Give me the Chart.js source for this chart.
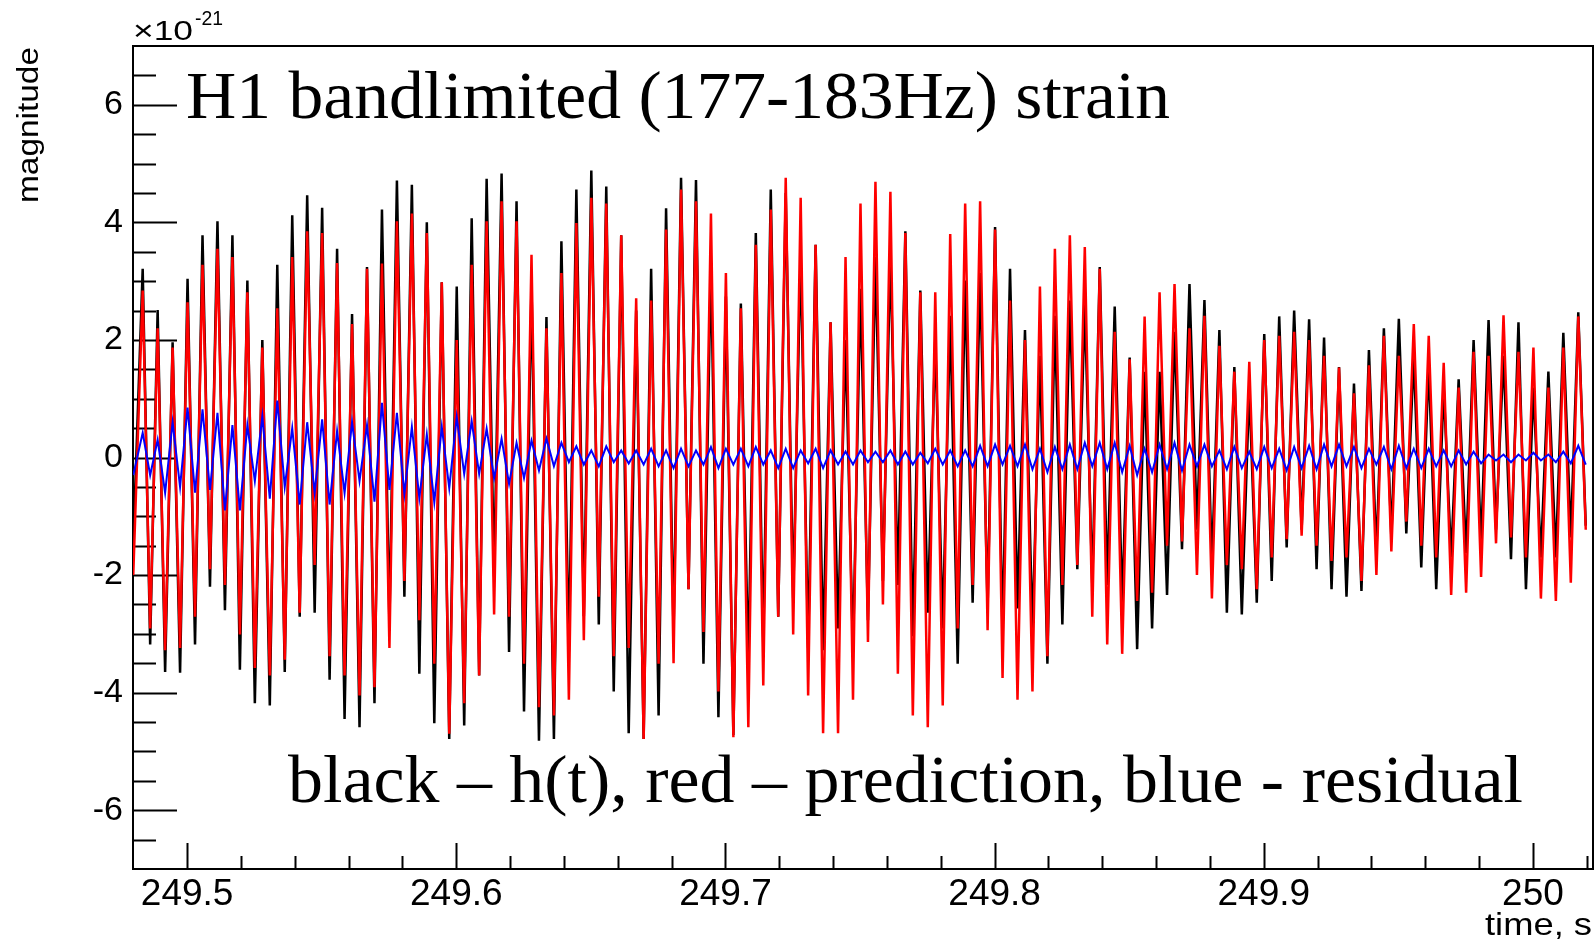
<!DOCTYPE html>
<html>
<head>
<meta charset="utf-8">
<title>H1 bandlimited strain</title>
<script src="https://cdn.jsdelivr.net/npm/chart.js@4.4.1/dist/chart.umd.min.js"></script>
<style>
  html, body { margin: 0; padding: 0; background: #fff; }
  #wrap { width: 1595px; height: 942px; }
</style>
</head>
<body>
<div id="wrap"><canvas id="myChart" width="1595" height="942"></canvas></div>
<script>

// values in units of 1e-21, one peak and one trough per ~180 Hz cycle
const firstPeak = 249.4835;   // time of first peak, s
const period = 1 / 180;       // cycle length, s
const startTime = 249.48;

const hStart = -1.5;
const predStart = -2.0;
const resStart = -0.3;

// black - h(t)
const hPeaks = [
  3.21, 2.51, 1.96, 3.04, 3.78, 4.02, 3.78, 3.01, 2.00, 3.28, 4.12, 4.46, 4.25, 3.55, 2.44, 3.24,
  4.22, 4.71, 4.64, 4.00, 2.98, 2.91, 4.07, 4.74, 4.83, 4.36, 2.95, 2.39, 3.68, 4.56, 4.88, 4.61, 3.78,
  2.50, 3.21, 4.24, 4.76, 4.72, 3.35, 2.74, 2.62, 3.82, 4.56, 4.50, 3.48, 3.62, 2.30, 2.00, 2.87,
  3.41, 3.48, 3.85, 2.84, 2.00, 2.41, 3.01, 3.14, 3.92, 3.21, 2.17, 1.73, 2.41, 2.67, 2.61, 3.24,
  2.57, 1.70, 1.46, 1.46, 2.14, 2.95, 2.68, 2.17, 1.54, 1.19, 2.10, 2.40, 2.50, 2.35, 2.04, 1.54, 1.26,
  1.83, 2.20, 2.36, 1.73, 1.60, 1.19, 1.33, 2.00, 2.34, 1.73, 2.30, 1.19, 1.46, 2.12, 2.47
];
const hTroughs = [
  -3.18, -3.65, -3.66, -3.18, -2.20, -2.60, -3.61, -4.18, -4.22, -3.65, -2.71, -2.64, -3.78, -4.45, -4.59, -4.18,
  -2.84, -2.37, -3.68, -4.52, -4.79, -4.56, -3.71, -2.03, -3.31, -4.32, -4.82, -4.79, -3.30, -2.70, -2.84, -3.98, -4.69,
  -4.79, -4.39, -3.00, -2.24, -3.51, -4.42, -4.72, -3.58, -3.18, -2.71, -2.40, -3.24, -3.28, -2.91, -3.31, -2.77,
  -2.10, -2.17, -3.04, -2.64, -2.91, -3.51, -2.47, -2.57, -3.04, -2.57, -2.97, -3.51, -2.84, -1.90, -2.17, -2.17,
  -2.50, -3.26, -2.91, -2.34, -1.56, -1.23, -1.83, -2.64, -2.67, -2.47, -2.10, -1.53, -1.23, -1.90, -2.24, -2.37, -2.27,
  -1.63, -1.36, -1.29, -1.87, -2.24, -1.70, -1.63, -1.50, -1.23, -1.73, -2.24, -1.70, -1.70, -1.36, -1.16
];

// red - prediction
const predPeaks = [
  2.84, 2.20, 1.87, 2.64, 3.28, 3.55, 3.41, 2.81, 1.87, 2.54, 3.41, 3.85, 3.82, 3.31, 2.27, 3.21,
  3.30, 4.02, 4.15, 3.82, 2.98, 2.00, 3.28, 4.02, 4.36, 4.02, 3.45, 2.20, 3.14, 3.99, 4.42, 4.32, 3.78,
  2.71, 2.67, 3.88, 4.56, 4.36, 4.15, 3.14, 2.54, 3.62, 4.22, 4.76, 4.42, 3.62, 2.30, 3.41, 4.32,
  4.69, 4.52, 3.82, 2.81, 2.81, 3.80, 4.32, 4.36, 3.88, 2.67, 2.00, 2.91, 3.55, 3.78, 3.58, 3.21,
  2.14, 1.67, 2.40, 2.81, 2.95, 2.20, 2.41, 1.90, 1.46, 1.63, 2.00, 2.07, 2.14, 2.00, 1.73, 1.53, 1.09,
  1.57, 2.07, 1.73, 2.27, 2.07, 1.61, 1.19, 1.80, 1.73, 2.42, 1.80, 1.87, 1.19, 1.87, 2.40
];
const predTroughs = [
  -2.91, -3.28, -3.24, -2.71, -1.90, -2.17, -3.01, -3.58, -3.71, -3.44, -2.64, -1.83, -3.38, -3.71, -4.05, -3.91,
  -3.24, -2.10, -2.77, -3.51, -4.70, -4.18, -3.71, -2.67, -2.71, -3.51, -4.25, -4.39, -4.12, -3.11, -2.37, -3.38, -3.24,
  -4.79, -3.51, -3.50, -2.24, -2.97, -3.98, -4.76, -4.59, -3.88, -2.71, -3.01, -4.05, -4.69, -4.69, -4.12, -3.14,
  -2.50, -3.68, -4.39, -4.59, -4.22, -2.91, -2.17, -2.94, -3.75, -4.12, -3.98, -3.38, -2.17, -1.83, -2.71, -3.18,
  -3.34, -2.44, -2.30, -1.50, -1.43, -2.00, -2.40, -1.83, -1.90, -2.24, -1.70, -1.39, -1.33, -1.50, -1.76, -1.70, -2.10,
  -2.00, -1.60, -1.09, -1.50, -1.70, -2.34, -2.30, -2.03, -1.46, -1.36, -1.70, -2.40, -2.44, -2.13, -1.23
];

// blue - residual
const resPeaks = [
  0.42, 0.30, 0.60, 0.85, 0.82, 0.76, 0.55, 0.55, 0.70, 0.97, 0.50, 0.60, 0.65, 0.45, 0.60, 0.55,
  0.93, 0.76, 0.52, 0.39, 0.52, 0.69, 0.62, 0.49, 0.32, 0.25, 0.29, 0.32, 0.25, 0.19, 0.12, 0.19, 0.12,
  0.12, 0.15, 0.12, 0.15, 0.12, 0.18, 0.15, 0.15, 0.18, 0.12, 0.15, 0.12, 0.15, 0.12, 0.10, 0.12,
  0.10, 0.12, 0.10, 0.08, 0.15, 0.12, 0.12, 0.20, 0.22, 0.20, 0.22, 0.15, 0.18, 0.22, 0.25, 0.25,
  0.25, 0.20, 0.15, 0.22, 0.25, 0.22, 0.22, 0.12, 0.18, 0.10, 0.18, 0.15, 0.18, 0.20, 0.22, 0.22, 0.18,
  0.15, 0.18, 0.20, 0.15, 0.15, 0.12, 0.12, 0.10, 0.05, 0.05, 0.05, 0.08, 0.05, 0.10, 0.20
];
const resTroughs = [
  -0.30, -0.60, -0.50, -0.60, -0.55, -0.90, -0.90, -0.40, -0.70, -0.50, -0.80, -0.60, -0.80, -0.60, -0.40, -0.75,
  -0.55, -0.62, -0.69, -0.76, -0.52, -0.28, -0.28, -0.35, -0.45, -0.35, -0.22, -0.15, -0.08, -0.12, -0.15, -0.08, -0.10,
  -0.12, -0.15, -0.18, -0.15, -0.12, -0.18, -0.12, -0.15, -0.12, -0.18, -0.18, -0.10, -0.18, -0.12, -0.12, -0.08,
  -0.08, -0.12, -0.12, -0.10, -0.12, -0.15, -0.15, -0.15, -0.12, -0.15, -0.20, -0.25, -0.20, -0.20, -0.15, -0.20,
  -0.25, -0.30, -0.25, -0.20, -0.22, -0.15, -0.15, -0.20, -0.18, -0.20, -0.18, -0.22, -0.18, -0.20, -0.15, -0.15, -0.18,
  -0.12, -0.20, -0.18, -0.18, -0.15, -0.15, -0.12, -0.10, -0.05, -0.08, -0.05, -0.05, -0.08, -0.10, -0.12
];

const xMin = 249.4799, xMax = 250.0223;
const yMin = -7, yMax = 7;
const titleText = 'H1 bandlimited (177-183Hz) strain';
const noteText = 'black \u2013 h(t), red \u2013 prediction, blue - residual';


function buildSeries(start, peaks, troughs) {
  var pts = [{ x: startTime, y: start }];
  for (var i = 0; i < peaks.length; i++) {
    var t = firstPeak + i * period;
    pts.push({ x: t, y: peaks[i] });
    pts.push({ x: t + period / 2, y: troughs[i] });
  }
  return pts;
}

function isMult(v, step) {
  var q = v / step;
  return Math.abs(q - Math.round(q)) < 1e-6;
}

// squeeze / stretch a string to the width it has in the picture
function fitText(ctx, txt, font, x, y, w) {
  ctx.font = font;
  var m = ctx.measureText(txt).width;
  ctx.save();
  ctx.translate(x, y);
  ctx.scale(w / m, 1);
  ctx.fillText(txt, 0, 0);
  ctx.restore();
}

// ROOT style frame with inward ticks
const framePlugin = {
  id: 'frame',
  beforeDatasetsDraw(chart) {
    const ctx = chart.ctx;
    const a = chart.chartArea;
    const xs = chart.scales.x, ys = chart.scales.y;
    ctx.save();
    ctx.strokeStyle = '#000';
    ctx.lineWidth = 2;
    ctx.strokeRect(a.left, a.top, a.right - a.left, a.bottom - a.top);

    ctx.beginPath();
    ys.ticks.forEach(function (t) {
      var py = Math.round(ys.getPixelForValue(t.value)) + 0.5;
      if (py <= a.top + 1 || py >= a.bottom - 1) return;
      var len = isMult(t.value, 2) ? 44 : 23;
      ctx.moveTo(a.left, py);
      ctx.lineTo(a.left + len, py);
    });
    xs.ticks.forEach(function (t) {
      var px = Math.round(xs.getPixelForValue(t.value)) + 0.5;
      if (px <= a.left + 1 || px >= a.right - 1) return;
      var len = isMult(t.value, 0.1) ? 26 : 13;
      ctx.moveTo(px, a.bottom);
      ctx.lineTo(px, a.bottom - len);
    });
    ctx.stroke();
    ctx.restore();
  },
  afterDraw(chart) {
    const ctx = chart.ctx;
    ctx.save();
    ctx.fillStyle = '#000';
    ctx.textAlign = 'left';
    ctx.textBaseline = 'alphabetic';

    fitText(ctx, titleText, '68px "Liberation Serif"', 186, 118, 984);
    fitText(ctx, noteText, '68px "Liberation Serif"', 288, 802, 1235);

    fitText(ctx, '\u00d710', '28px "Liberation Sans"', 133, 40, 60);
    fitText(ctx, '-21', '20px "Liberation Sans"', 195, 25, 28);

    fitText(ctx, 'time, s', '32px "Liberation Sans"', 1485, 935, 107);

    ctx.save();
    ctx.translate(38, 203);
    ctx.rotate(-Math.PI / 2);
    fitText(ctx, 'magnitude', '29px "Liberation Sans"', 0, 0, 156);
    ctx.restore();

    ctx.restore();
  }
};

Chart.defaults.font.family = '"Liberation Sans", Arial, sans-serif';
Chart.defaults.color = '#000';

const canvas = document.getElementById('myChart');
const ctx = canvas.getContext('2d');

const chart = new Chart(ctx, {
  type: 'line',
  data: {
    datasets: [{
      label: 'residual',
      data: buildSeries(resStart, resPeaks, resTroughs),
      borderColor: '#0000ff',
      borderWidth: 2,
      order: 0
    }, {
      label: 'prediction',
      data: buildSeries(predStart, predPeaks, predTroughs),
      borderColor: '#ff0000',
      borderWidth: 2.5,
      order: 1
    }, {
      label: 'h(t)',
      data: buildSeries(hStart, hPeaks, hTroughs),
      borderColor: '#000000',
      borderWidth: 2.5,
      order: 2
    }]
  },
  options: {
    responsive: false,
    animation: false,
    events: [],
    elements: {
      point: { radius: 0 },
      line: { tension: 0, fill: false }
    },
    layout: { padding: { top: 46, right: 2, left: 0, bottom: 0 } },
    plugins: {
      legend: { display: false },
      tooltip: { enabled: false }
    },
    scales: {
      x: {
        type: 'linear',
        position: 'bottom',
        min: xMin,
        max: xMax,
        border: { display: false },
        grid: { display: false, drawTicks: false },
        afterFit: function (scale) { scale.height = 73; },
        ticks: {
          stepSize: 0.02,
          includeBounds: false,
          autoSkip: false,
          maxRotation: 0,
          minRotation: 0,
          padding: 4,
          font: { size: 37 },
          callback: function (v) {
            return isMult(v, 0.1) ? String(+v.toFixed(1)) : '';
          }
        }
      },
      y: {
        type: 'linear',
        position: 'left',
        min: yMin,
        max: yMax,
        border: { display: false },
        grid: { display: false, drawTicks: false },
        afterFit: function (scale) { scale.width = 133; },
        ticks: {
          stepSize: 0.5,
          autoSkip: false,
          padding: 10,
          font: { size: 34 },
          callback: function (v) {
            return isMult(v, 2) ? String(Math.round(v)) : '';
          }
        }
      }
    }
  },
  plugins: [framePlugin]
});

</script>
</body>
</html>
